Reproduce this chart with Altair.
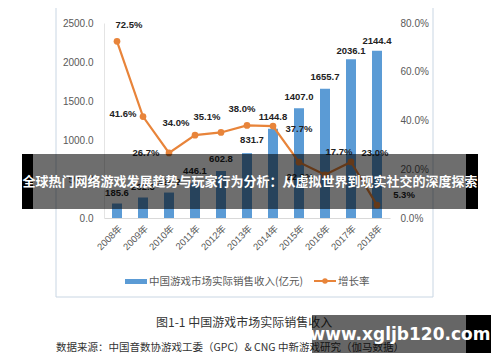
import altair as alt
import pandas as pd

years = ["2008年", "2009年", "2010年", "2011年", "2012年", "2013年",
         "2014年", "2015年", "2016年", "2017年", "2018年"]
revenue = [185.6, 262.8, 326.2, 446.1, 602.8, 831.7, 1144.8, 1407.0, 1655.7, 2036.1, 2144.4]
growth = [72.5, 41.6, 26.7, 34.0, 35.1, 38.0, 37.7, 22.9, 17.7, 23.0, 5.3]
rev_ticks = [0, 500, 1000, 1500, 2000, 2500]
growth_ticks = [0, 20, 40, 60, 80]

# label placement offsets (styling only)
growth_dx = [12, -20, -23, -19, -14, -5, 26, 1, 14, 24, 27]
growth_dy = [-16, -3, 0, -12, -15, -16, 3, 15, -23, -9, -10]
rev_dx = [0, 0, 0, 0, 0, 5, 0, 0, 0, 0, 0]
rev_dy = [-11, -11, -11, -12, -12, -13, -12, -11, -12, -8, -10]

title_text = "全球热门网络游戏发展趋势与玩家行为分析：从虚拟世界到现实社交的深度探索"
legend_bar = "中国游戏市场实际销售收入(亿元)"
legend_line = "增长率"
caption = "图1-1  中国游戏市场实际销售收入"
source = "数据来源：中国音数协游戏工委（GPC）& CNG 中新游戏研究（伽马数据）"
watermark = "www.xgljb120.com"

df = pd.DataFrame({
    "year": years,
    "revenue": revenue,
    "growth": growth,
    "rev_label": [f"{v:.1f}" for v in revenue],
    "growth_label": [f"{g:.1f}%" for g in growth],
})

FONT = "Liberation Sans, Noto Sans CJK SC, sans-serif"
CJK = "Noto Sans CJK SC, sans-serif"
BLUE = "#5B9BD5"
ORANGE = "#E8843A"
GRAY = "#595959"

x_enc = alt.X("year:N", sort=years, title=None,
              scale=alt.Scale(paddingInner=0, paddingOuter=0),
              axis=alt.Axis(labelAngle=-45, labelFont=FONT, labelFontSize=9.5,
                            labelColor=GRAY, ticks=False, domainColor="#D9D9D9",
                            labelPadding=5))

base_l = alt.Chart(df).encode(
    x=x_enc,
    y=alt.Y("revenue:Q", title=None, scale=alt.Scale(domain=[0, 2500], nice=False),
            axis=alt.Axis(values=rev_ticks, format=".1f", labelFont=FONT, labelFontSize=10,
                          labelColor=GRAY, ticks=False, grid=False, domainColor="#E4E4E4",
                          labelPadding=11, orient="left")),
)
bars = base_l.mark_bar(color=BLUE, size=10)
bar_texts = [
    base_l.transform_filter(alt.datum.year == years[i]).mark_text(
        font=FONT, fontSize=9.5, fontWeight="bold", color="#222222",
        dx=rev_dx[i], dy=rev_dy[i]).encode(text="rev_label:N")
    for i in range(len(years))
]
left = alt.layer(bars, *bar_texts)

base_r = alt.Chart(df).encode(
    x=x_enc,
    y=alt.Y("growth:Q", title=None, scale=alt.Scale(domain=[0, 80], nice=False),
            axis=alt.Axis(values=growth_ticks, labelExpr="format(datum.value, '.1f') + '%'",
                          labelFont=FONT, labelFontSize=10, labelColor=GRAY, ticks=False,
                          grid=False, domain=False, labelPadding=10, orient="right")),
)
line = base_r.mark_line(color=ORANGE, strokeWidth=2.2)
pts = base_r.mark_point(color=ORANGE, filled=True, size=45, opacity=1)
growth_texts = [
    base_r.transform_filter(alt.datum.year == years[i]).mark_text(
        font=FONT, fontSize=9.5, fontWeight="bold", color="#222222",
        dx=growth_dx[i], dy=growth_dy[i]).encode(text="growth_label:N")
    for i in range(len(years))
]
right = alt.layer(line, pts, *growth_texts)

one = pd.DataFrame({"k": [0]})

def rect(x1, x2, y1, y2, **kw):
    return alt.Chart(one).mark_rect(**kw).encode(
        x=alt.value(x1), x2=alt.value(x2), y=alt.value(y1), y2=alt.value(y2))

def text(s, x, y, **kw):
    return alt.Chart(one).mark_text(**kw).encode(
        x=alt.value(x), y=alt.value(y), text=alt.value(s))

frame = rect(-48, 329, -21, 274, fillOpacity=0, stroke="#C9D6E3", strokeWidth=1)

leg_rect = rect(21, 43, 256, 261, fill=BLUE)
leg_text1 = text(legend_bar, 45, 258.5, font=CJK, fontSize=10.5, color=GRAY, align="left", baseline="middle")
leg_line = alt.Chart(one).mark_rule(color=ORANGE, strokeWidth=2).encode(
    x=alt.value(210), x2=alt.value(232), y=alt.value(258))
leg_pt = alt.Chart(one).mark_point(color=ORANGE, filled=True, size=30, opacity=1).encode(
    x=alt.value(221), y=alt.value(258))
leg_text2 = text(legend_line, 234, 258.5, font=CJK, fontSize=10.5, color=GRAY, align="left", baseline="middle")

cap = text(caption, 52, 300, font=CJK, fontSize=12, color="#333333", align="left", baseline="middle")
src = text(source, -48, 325, font=CJK, fontSize=10.5, color="#333333", align="left", baseline="middle")

banner = rect(-82, 374, 131, 186, fill="black", opacity=0.57)
banner_l = rect(-82, -71, 131, 186, fill="black")
banner_r = rect(362, 374, 131, 186, fill="black")
banner_t = text(title_text, 146, 159, font=CJK, fontSize=13, fontWeight="bold", color="white",
                align="center", baseline="middle")

wm = rect(208, 362, 292, 330, fill="black", opacity=0.6)
wm_r = rect(362, 387, 292, 330, fill="black")
wm_t = text(watermark, 296, 311.5, font="DejaVu Sans, sans-serif", fontSize=17, fontWeight="bold",
            color="white", align="center", baseline="middle")

chart = alt.layer(
    frame, left, right, leg_rect, leg_text1, leg_line, leg_pt, leg_text2, cap, src,
    banner, banner_l, banner_r, banner_t, wm, wm_r, wm_t,
).resolve_scale(y="independent").properties(
    width=286, height=195,
    padding={"left": 96, "top": 15, "right": 102, "bottom": 136},
    autosize=alt.AutoSizeParams(type="none"),
    background="white",
).configure_view(stroke=None)

chart.save("out.html", embed_options={"renderer": "svg", "actions": False})
